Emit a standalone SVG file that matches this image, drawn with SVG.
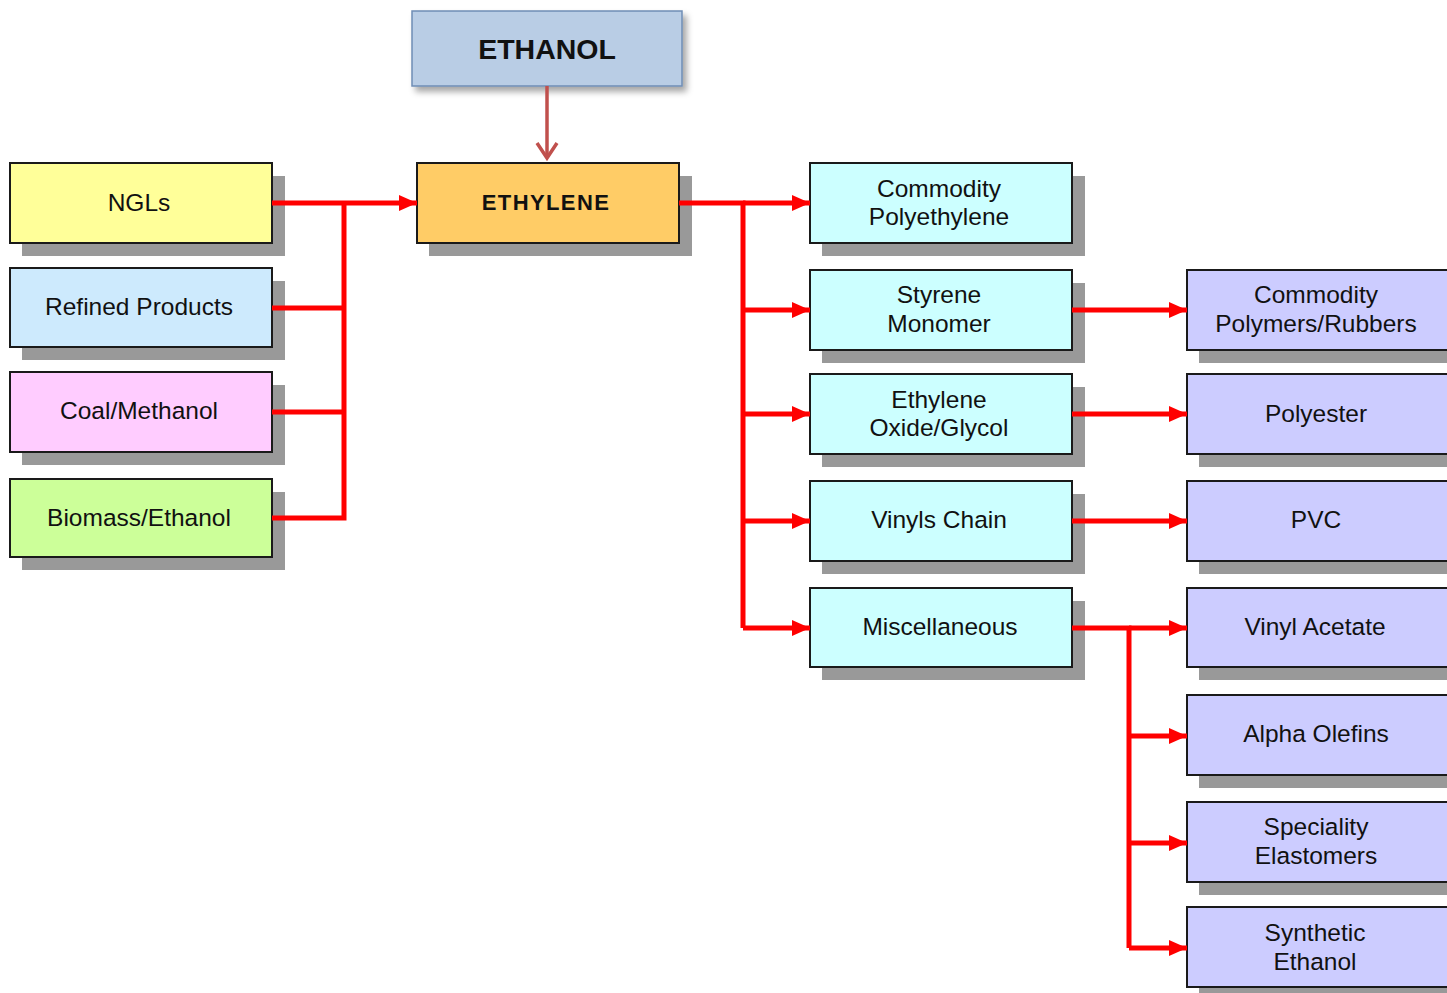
<svg xmlns="http://www.w3.org/2000/svg" width="1447" height="993" viewBox="0 0 1447 993">
  <style>
    .box { stroke: #1a1a1a; stroke-width: 2; }
    .shadow { fill: #999999; }
    .lbl { font-family: "Liberation Sans", Arial, sans-serif; font-size: 24.5px; fill: #111; text-anchor: middle; }
    .wire { fill: none; stroke: #ff0000; stroke-width: 5; }
    .src { fill: #ffff99; }
    .ref { fill: #cdeafd; }
    .coal { fill: #ffccff; }
    .bio { fill: #ccff99; }
    .eth { fill: #ffcc66; }
    .mid { fill: #ccffff; }
    .out { fill: #ccccff; }
  </style>
  <defs>
    <marker id="arr" viewBox="0 0 10 10" refX="10" refY="5" markerWidth="18" markerHeight="18" markerUnits="userSpaceOnUse" orient="auto">
      <path d="M0,0.5 L10,5 L0,9.5 Z" fill="#ff0000"/>
    </marker>
    <filter id="soft" x="-10%" y="-20%" width="130%" height="160%">
      <feDropShadow dx="4" dy="5" stdDeviation="3" flood-color="#000" flood-opacity="0.35"/>
    </filter>
  </defs>
  <rect width="1447" height="993" fill="#ffffff"/>

  <!-- top feedstock -->
  <g id="n-ethanol">
    <rect x="412" y="11" width="270" height="75" fill="#b9cde5" stroke="#6f8db5" stroke-width="1.5" filter="url(#soft)"/>
    <text x="547" y="59" class="lbl" style="font-size:28.5px;font-weight:bold">ETHANOL</text>
  </g>

  <!-- left feedstocks -->
  <g id="n-ngls">
    <rect class="shadow" x="22" y="176" width="263" height="80"/>
    <rect class="box src" x="10" y="163" width="262" height="80"/>
    <text x="139" y="211" class="lbl">NGLs</text>
  </g>
  <g id="n-refined">
    <rect class="shadow" x="22" y="281" width="263" height="79"/>
    <rect class="box ref" x="10" y="268" width="262" height="79"/>
    <text x="139" y="315" class="lbl">Refined Products</text>
  </g>
  <g id="n-coal">
    <rect class="shadow" x="22" y="385" width="263" height="80"/>
    <rect class="box coal" x="10" y="372" width="262" height="80"/>
    <text x="139" y="419" class="lbl">Coal/Methanol</text>
  </g>
  <g id="n-biomass">
    <rect class="shadow" x="22" y="492" width="263" height="78"/>
    <rect class="box bio" x="10" y="479" width="262" height="78"/>
    <text x="139" y="526" class="lbl">Biomass/Ethanol</text>
  </g>

  <!-- hub -->
  <g id="n-ethylene">
    <rect class="shadow" x="429" y="176" width="263" height="80"/>
    <rect class="box eth" x="417" y="163" width="262" height="80"/>
    <text x="546" y="210" class="lbl" style="font-size:22px;font-weight:bold;letter-spacing:1.4px">ETHYLENE</text>
  </g>

  <!-- first derivatives -->
  <g id="n-pe">
    <rect class="shadow" x="822" y="176" width="263" height="80"/>
    <rect class="box mid" x="810" y="163" width="262" height="80"/>
    <text x="939" y="197" class="lbl">Commodity</text>
    <text x="939" y="225" class="lbl">Polyethylene</text>
  </g>
  <g id="n-styrene">
    <rect class="shadow" x="822" y="283" width="263" height="80"/>
    <rect class="box mid" x="810" y="270" width="262" height="80"/>
    <text x="939" y="303" class="lbl">Styrene</text>
    <text x="939" y="332" class="lbl">Monomer</text>
  </g>
  <g id="n-eo">
    <rect class="shadow" x="822" y="387" width="263" height="80"/>
    <rect class="box mid" x="810" y="374" width="262" height="80"/>
    <text x="939" y="408" class="lbl">Ethylene</text>
    <text x="939" y="436" class="lbl">Oxide/Glycol</text>
  </g>
  <g id="n-vinyls">
    <rect class="shadow" x="822" y="494" width="263" height="80"/>
    <rect class="box mid" x="810" y="481" width="262" height="80"/>
    <text x="939" y="528" class="lbl">Vinyls Chain</text>
  </g>
  <g id="n-misc">
    <rect class="shadow" x="822" y="601" width="263" height="79"/>
    <rect class="box mid" x="810" y="588" width="262" height="79"/>
    <text x="940" y="635" class="lbl">Miscellaneous</text>
  </g>

  <!-- end products -->
  <g id="n-polymers">
    <rect class="shadow" x="1199" y="283" width="263" height="80"/>
    <rect class="box out" x="1187" y="270" width="262" height="80"/>
    <text x="1316" y="303" class="lbl">Commodity</text>
    <text x="1316" y="332" class="lbl">Polymers/Rubbers</text>
  </g>
  <g id="n-polyester">
    <rect class="shadow" x="1199" y="387" width="263" height="80"/>
    <rect class="box out" x="1187" y="374" width="262" height="80"/>
    <text x="1316" y="422" class="lbl">Polyester</text>
  </g>
  <g id="n-pvc">
    <rect class="shadow" x="1199" y="494" width="263" height="80"/>
    <rect class="box out" x="1187" y="481" width="262" height="80"/>
    <text x="1316" y="528" class="lbl">PVC</text>
  </g>
  <g id="n-vam">
    <rect class="shadow" x="1199" y="601" width="263" height="79"/>
    <rect class="box out" x="1187" y="588" width="262" height="79"/>
    <text x="1315" y="635" class="lbl">Vinyl Acetate</text>
  </g>
  <g id="n-alpha">
    <rect class="shadow" x="1199" y="708" width="263" height="80"/>
    <rect class="box out" x="1187" y="695" width="262" height="80"/>
    <text x="1316" y="742" class="lbl">Alpha Olefins</text>
  </g>
  <g id="n-elast">
    <rect class="shadow" x="1199" y="815" width="263" height="80"/>
    <rect class="box out" x="1187" y="802" width="262" height="80"/>
    <text x="1316" y="835" class="lbl">Speciality</text>
    <text x="1316" y="864" class="lbl">Elastomers</text>
  </g>
  <g id="n-synth">
    <rect class="shadow" x="1199" y="920" width="263" height="80"/>
    <rect class="box out" x="1187" y="907" width="262" height="80"/>
    <text x="1315" y="941" class="lbl">Synthetic</text>
    <text x="1315" y="970" class="lbl">Ethanol</text>
  </g>

  <!-- connectors -->
  <g id="connectors">
    <!-- ethanol to ethylene -->
    <line x1="547" y1="86" x2="547" y2="158" stroke="#c0504d" stroke-width="3.5"/>
    <path d="M537,143 L547,158 L557,143" fill="none" stroke="#c0504d" stroke-width="3.5"/>

    <!-- feedstocks merge -->
    <path class="wire" d="M272,203 H344 M272,308 H344 M272,412 H344 M272,518 H344 V203"/>
    <path class="wire" d="M344,203 H417" marker-end="url(#arr)"/>

    <!-- ethylene fan-out -->
    <path class="wire" d="M679,203 H743 V628"/>
    <path class="wire" d="M743,203 H810" marker-end="url(#arr)"/>
    <path class="wire" d="M743,310 H810" marker-end="url(#arr)"/>
    <path class="wire" d="M743,414 H810" marker-end="url(#arr)"/>
    <path class="wire" d="M743,521 H810" marker-end="url(#arr)"/>
    <path class="wire" d="M743,628 H810" marker-end="url(#arr)"/>

    <!-- derivatives to end products -->
    <path class="wire" d="M1072,310 H1187" marker-end="url(#arr)"/>
    <path class="wire" d="M1072,414 H1187" marker-end="url(#arr)"/>
    <path class="wire" d="M1072,521 H1187" marker-end="url(#arr)"/>
    <path class="wire" d="M1072,628 H1129 V948"/>
    <path class="wire" d="M1129,628 H1187" marker-end="url(#arr)"/>
    <path class="wire" d="M1129,736 H1187" marker-end="url(#arr)"/>
    <path class="wire" d="M1129,843 H1187" marker-end="url(#arr)"/>
    <path class="wire" d="M1129,948 H1187" marker-end="url(#arr)"/>
  </g>
</svg>
